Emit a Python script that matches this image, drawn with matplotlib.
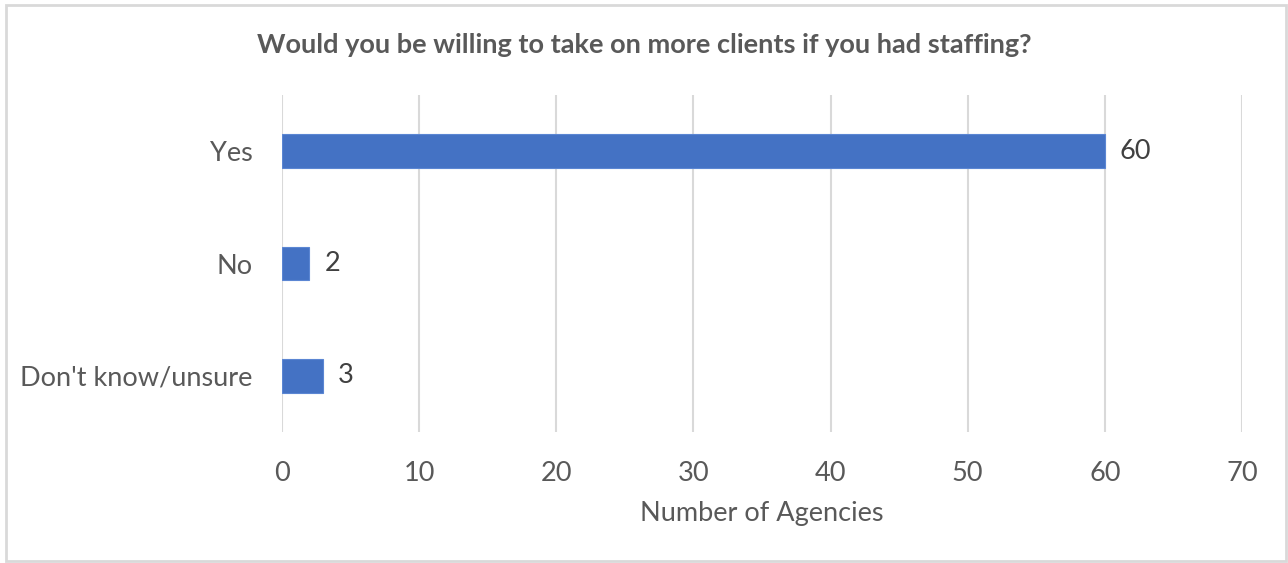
import matplotlib.pyplot as plt
from matplotlib.patches import Rectangle

categories = ["Yes", "No", "Don't know/unsure"]
counts = [60, 2, 3]
x_ticks = [0, 10, 20, 30, 40, 50, 60, 70]

title = "Would you be willing to take on more clients if you had staffing?"
x_label = "Number of Agencies"

text_gray = "#595959"
bar_blue = "#4472C4"
grid_gray = "#D9D9D9"

plt.rcParams["font.family"] = ["Lato", "DejaVu Sans"]

fig = plt.figure(figsize=(12.88, 5.63), dpi=100)
fig.patch.set_facecolor("white")

# outer chart border
fig.add_artist(Rectangle((6 / 1288, 2 / 563), 1280 / 1288, 556 / 563,
                         transform=fig.transFigure, fill=False,
                         edgecolor=grid_gray, linewidth=2))

ax = fig.add_axes([282 / 1288, 131 / 563, 960 / 1288, 337 / 563])

y_pos = list(range(len(categories)))
bars = ax.barh(y_pos, counts, height=0.30, color=bar_blue,
               edgecolor="#5B86D3", linewidth=0.8, zorder=3)

for rect, v in zip(bars, counts):
    ax.text(rect.get_width() + 1.1, rect.get_y() + rect.get_height() / 2,
            str(v), va="center", ha="left", fontsize=19.5, color="#404040")

ax.set_xlim(0, 70)
ax.set_ylim(2.5, -0.5)
ax.set_xticks(x_ticks)
ax.set_xticklabels([str(t) for t in x_ticks])
ax.set_yticks(y_pos)
ax.set_yticklabels(categories)

ax.grid(axis="x", color=grid_gray, linewidth=1.5, zorder=0)
ax.grid(axis="y", visible=False)
for s in ax.spines.values():
    s.set_visible(False)
ax.tick_params(axis="both", length=0, labelsize=19.5, labelcolor=text_gray)
ax.tick_params(axis="x", pad=21)
ax.tick_params(axis="y", pad=21)

ax.set_xlabel(x_label, fontsize=19.5, color=text_gray, labelpad=10.5)

fig.text((258 + 1030) / 2 / 1288, 1 - 45 / 563, title, ha="center", va="center",
         fontsize=19.5, fontweight="bold", color=text_gray)

fig.savefig("out.png", dpi=100, facecolor="white")
